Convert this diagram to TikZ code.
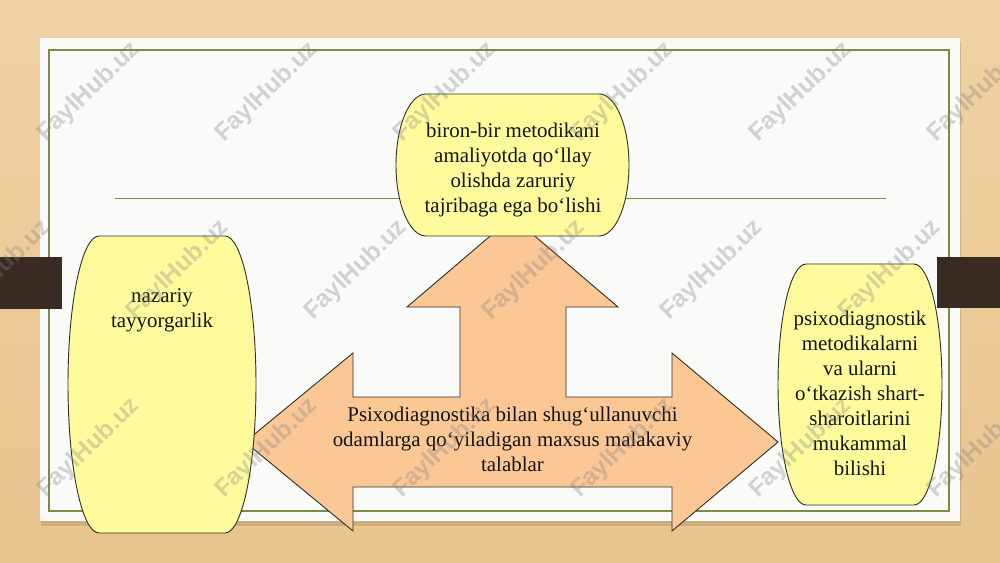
\documentclass[tikz,border=0pt]{standalone}
\usepackage{fontspec}
\setmainfont{Liberation Serif}
\newfontfamily\wmfont{Liberation Sans}
\definecolor{woodtop}{HTML}{F1D2A4}
\definecolor{woodbot}{HTML}{E8C48E}
\definecolor{pagec}{HTML}{FAFAF8}
\definecolor{olivec}{HTML}{7E8B45}
\definecolor{tabc}{HTML}{3A2B22}
\definecolor{boxyellow}{HTML}{FFFB9D}
\definecolor{arroworange}{HTML}{FBC795}
\definecolor{edgec}{HTML}{33332A}
\definecolor{txtc}{HTML}{141414}
\newcommand\drawbarrel[5]{%
  \pgfmathsetmacro\bm{(#3+#4)/2}%
  \pgfmathsetmacro\bk{0.276*(#4-#3)}%
  \path[barrelbox] (#1+#5,#3) -- (#2-#5,#3)
    .. controls (#2-0.448*#5,#3) and (#2,\bm-\bk) .. (#2,\bm)
    .. controls (#2,\bm+\bk) and (#2-0.448*#5,#4) .. (#2-#5,#4)
    -- (#1+#5,#4)
    .. controls (#1+0.448*#5,#4) and (#1,\bm+\bk) .. (#1,\bm)
    .. controls (#1,\bm-\bk) and (#1+0.448*#5,#3) .. (#1+#5,#3) -- cycle;}
\begin{document}
\begin{tikzpicture}[x=0.75pt,y=-0.75pt,
  barrelbox/.style={fill=boxyellow,draw=edgec,line width=0.7pt},
  arrowshape/.style={fill=arroworange,draw=edgec,line width=0.7pt,line join=miter},
  txt/.style={text=txtc,align=center,inner sep=0pt,font=\fontsize{15.7}{18.75}\selectfont},
  wm/.style={text=gray,opacity=0.32,rotate=44,inner sep=0pt,font=\wmfont\bfseries\fontsize{18.5}{18.5}\selectfont}]
\useasboundingbox (0,0) rectangle (1000,562);
\clip (0,0) rectangle (1000,562);
% background
\shade[top color=woodtop,bottom color=woodbot] (0,0) rectangle (1000,562);
\fill[black,opacity=0.12] (41,42) rectangle (961,526);
\fill[pagec] (40,38) rectangle (960,521);
\draw[olivec,line width=1pt] (49,50) rectangle (949,511);
\draw[olivec,line width=0.7pt] (115,198) -- (886,198);
\fill[tabc] (0,257) rectangle (62,309);
\fill[tabc] (937,257) rectangle (1000,308);
% three-way arrow
\path[arrowshape] (512.5,217) -- (618,307) -- (566,307) -- (566,397) -- (672,397)
  -- (672,353) -- (778,442) -- (672,531) -- (672,487) -- (353,487) -- (353,531)
  -- (245,442) -- (353,353) -- (353,397) -- (460,397) -- (460,307) -- (407,307) -- cycle;
% boxes
\drawbarrel{396}{629}{94}{236}{30}
\drawbarrel{68}{256}{236}{533}{31}
\drawbarrel{778}{942}{264}{505}{28}
% texts
\node[txt] (ttop) at (513,170) {biron-bir metodikani\\amaliyotda qo‘llay\\olishda zaruriy\\tajribaga ega bo‘lishi};
\node[txt] (tleft) at (162,310) {nazariy\\tayyorgarlik};
\node[txt] (tright) at (860,393) {psixodiagnostik\\metodikalarni\\va ularni\\o‘tkazish shart-\\sharoitlarini\\mukammal\\bilishi};
\node[txt] (tmid) at (512.5,439) {Psixodiagnostika bilan shug‘ullanuvchi\\odamlarga qo‘yiladigan maxsus malakaviy\\talablar};
% watermarks
\foreach \x [count=\i] in {89,267,445,623,801,979} {
  \node[wm] (wa\i) at (\x,92) {FaylHub.uz};
  \node[wm] (wc\i) at (\x,448) {FaylHub.uz};
}
\foreach \x [count=\i] in {0,178,356,534,712,890} {
  \node[wm] (wb\i) at (\x,270) {FaylHub.uz};
}
\end{tikzpicture}
\end{document}
